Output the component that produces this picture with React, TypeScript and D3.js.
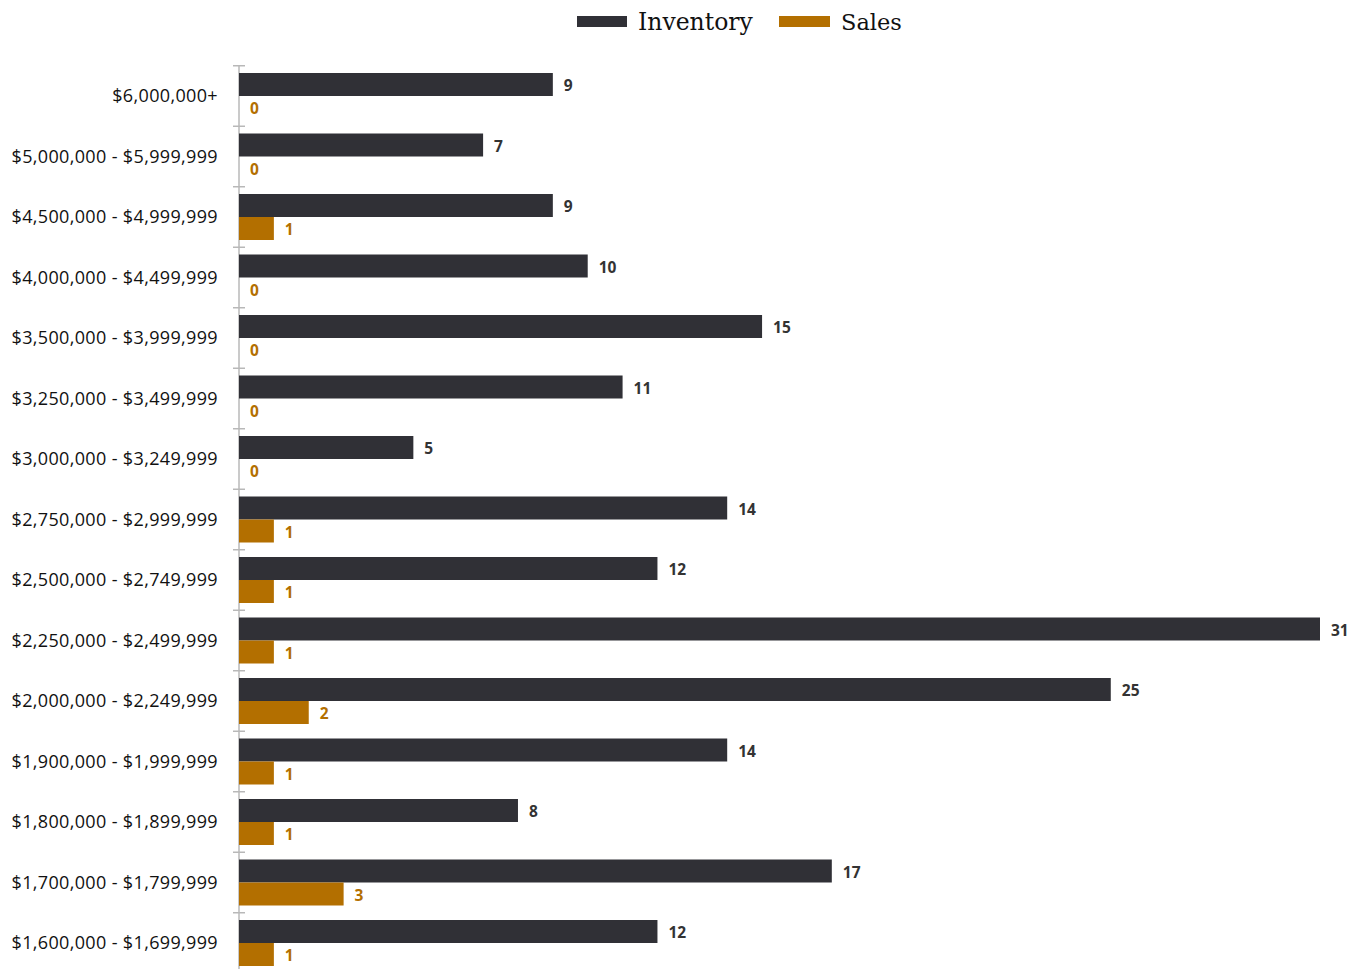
import React from "react";
import * as d3 from "d3";

const categories = [
  "$6,000,000+",
  "$5,000,000 - $5,999,999",
  "$4,500,000 - $4,999,999",
  "$4,000,000 - $4,499,999",
  "$3,500,000 - $3,999,999",
  "$3,250,000 - $3,499,999",
  "$3,000,000 - $3,249,999",
  "$2,750,000 - $2,999,999",
  "$2,500,000 - $2,749,999",
  "$2,250,000 - $2,499,999",
  "$2,000,000 - $2,249,999",
  "$1,900,000 - $1,999,999",
  "$1,800,000 - $1,899,999",
  "$1,700,000 - $1,799,999",
  "$1,600,000 - $1,699,999",
];
const inventory = [9, 7, 9, 10, 15, 11, 5, 14, 12, 31, 25, 14, 8, 17, 12];
const sales = [0, 0, 1, 0, 0, 0, 0, 1, 1, 1, 2, 1, 1, 3, 1];
const seriesNames = ["Inventory", "Sales"];

const W = 1360;
const H = 969;
const INV = "#303036";
const SAL = "#b36f00";

export default function App() {
  const x = d3.scaleLinear().domain([0, 31]).range([239, 1320]);
  const y = d3.scaleBand().domain(categories).range([65.75, 973.25]);
  const step = y.step();
  const top = 65.75;
  const tickYs = d3.range(categories.length + 1).map((i) => top + i * step);
  const rows = categories.map((c, i) => ({ c, inv: inventory[i], sal: sales[i], y0: y(c) as number }));
  return (
    <svg width={W} height={H} style={{ position: "absolute", left: 0, top: 0, overflow: "hidden" }}>
      <rect width={W} height={H} fill="#fff" />
      <g>
        <rect x={577} y={16} width={50} height={11} fill={INV} />
        <text x={638} y={30} fontFamily="'DejaVu Serif', serif" fontSize={23.5} fill="#111">{seriesNames[0]}</text>
        <rect x={779} y={16} width={51} height={11} fill={SAL} />
        <text x={841} y={30} fontFamily="'DejaVu Serif', serif" fontSize={22.5} fill="#111">{seriesNames[1]}</text>
      </g>
      <line x1={239} x2={239} y1={top} y2={H} stroke="#b8b8b8" strokeWidth={1.5} />
      {tickYs.map((t, i) => (
        <line key={i} x1={233} x2={245} y1={t} y2={t} stroke="#b8b8b8" strokeWidth={1.5} />
      ))}
      {rows.map((r, i) => {
        const gy = r.y0 + (step - 46) / 2;
        const cy = r.y0 + step / 2;
        return (
          <g key={i}>
            <text x={218} y={cy} dy="0.35em" textAnchor="end" fontFamily="'Open Sans', sans-serif" fontSize={18} letterSpacing={0.35} fill="#111">{r.c}</text>
            <rect x={x(0)} y={gy} width={x(r.inv) - x(0)} height={23} fill={INV} />
            {r.sal > 0 && <rect x={x(0)} y={gy + 23} width={x(r.sal) - x(0)} height={23} fill={SAL} />}
            <text x={x(r.inv) + 11} y={gy + 13} dy="0.35em" fontFamily="'Open Sans', sans-serif" fontWeight={700} fontSize={15.5} fill="#333">{r.inv}</text>
            <text x={x(r.sal) + 11} y={gy + 36} dy="0.35em" fontFamily="'Open Sans', sans-serif" fontWeight={700} fontSize={15.5} fill={SAL}>{r.sal}</text>
          </g>
        );
      })}
    </svg>
  );
}
